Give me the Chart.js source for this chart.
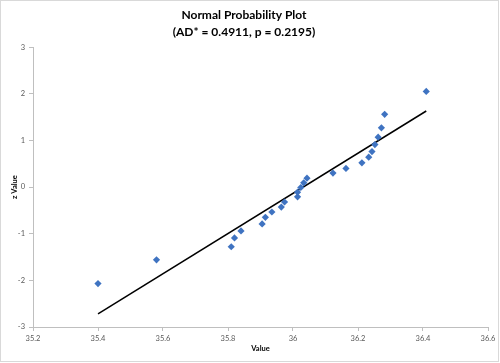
<!DOCTYPE html>
<html>
<head>
<meta charset="utf-8">
<script src="https://cdn.jsdelivr.net/npm/chart.js@4.4.0/dist/chart.umd.min.js"></script>
<style>
  html, body { margin: 0; padding: 0; background: #fff; }
  #wrap { width: 500px; height: 363px; }
</style>
</head>
<body>
<div id="wrap"><canvas id="NppChart" width="500" height="363"></canvas></div>
<script>
// observed values and their normal scores
const values = [35.40, 35.58, 35.81, 35.82, 35.84, 35.905, 35.915, 35.935, 35.964, 35.974,
                36.014, 36.014, 36.024, 36.033, 36.043, 36.123, 36.163, 36.212, 36.233, 36.243,
                36.252, 36.262, 36.272, 36.282, 36.41];
const zValues = [-2.07, -1.56, -1.28, -1.09, -0.94, -0.79, -0.65, -0.535, -0.43, -0.32,
                 -0.21, -0.11, -0.01, 0.09, 0.19, 0.30, 0.40, 0.52, 0.64, 0.76,
                 0.91, 1.07, 1.27, 1.56, 2.05];
// fitted reference line end points
const fitX = [35.40, 36.41];
const fitZ = [-2.72, 1.63];
const titleLines = ['Normal Probability Plot', '(AD* = 0.4911, p = 0.2195)'];

const frame = {
    id: 'frame',
    beforeDraw(chart) {
        const c = chart.ctx;
        c.save();
        c.fillStyle = '#fff';
        c.fillRect(0, 0, chart.width, chart.height);
        c.strokeStyle = '#d9d9d9';
        c.lineWidth = 1;
        c.strokeRect(0.5, 0.5, chart.width - 2, chart.height - 2);
        c.restore();
    }
};

const tickFont = { family: 'Lato', size: 7.5 };
const axisTitleFont = { family: 'Lato', size: 7.5, weight: 'bold' };

const ctx = document.getElementById('NppChart').getContext('2d');
new Chart(ctx, {
    type: 'scatter',
    data: {
        datasets: [{
            label: 'Data',
            data: values.map((v, i) => ({ x: v, y: zValues[i] })),
            pointStyle: 'rectRot',
            pointRadius: 3.6,
            backgroundColor: '#3f73c1',
            borderColor: '#3f73c1',
            borderWidth: 0,
            order: 1
        }, {
            label: 'Fit',
            type: 'line',
            data: fitX.map((v, i) => ({ x: v, y: fitZ[i] })),
            borderColor: '#000',
            borderWidth: 1.5,
            pointRadius: 0,
            fill: false,
            order: 2
        }]
    },
    options: {
        responsive: false,
        animation: false,
        layout: { padding: { left: 0, right: 12, top: 0, bottom: 0 } },
        plugins: {
            legend: { display: false },
            tooltip: { enabled: false },
            title: {
                display: true,
                text: titleLines,
                color: '#000',
                font: { family: 'Lato', size: 12, weight: 'bold', lineHeight: 1.4 },
                padding: { top: 6.5, bottom: 7 }
            }
        },
        scales: {
            x: {
                type: 'linear',
                min: 35.2,
                max: 36.6,
                border: { color: '#bfbfbf' },
                grid: { drawOnChartArea: false, color: '#bfbfbf', tickLength: 4 },
                ticks: {
                    stepSize: 0.2, color: '#595959', font: tickFont, padding: 3, maxRotation: 0,
                    callback: v => String(+v.toFixed(1))
                },
                title: { display: true, text: 'Value', color: '#000', font: axisTitleFont, padding: { top: 0, bottom: 10 } },
                afterFit(scale) { scale.height = 36; }
            },
            y: {
                min: -3,
                max: 3,
                border: { color: '#bfbfbf' },
                grid: { drawOnChartArea: false, color: '#bfbfbf', tickLength: 4 },
                ticks: { stepSize: 1, color: '#595959', font: tickFont, padding: 4 },
                title: { display: true, text: 'z Value', color: '#000', font: axisTitleFont, padding: { top: 10, bottom: 0 } },
                afterFit(scale) { scale.width = 33; }
            }
        }
    },
    plugins: [frame]
});
</script>
</body>
</html>
